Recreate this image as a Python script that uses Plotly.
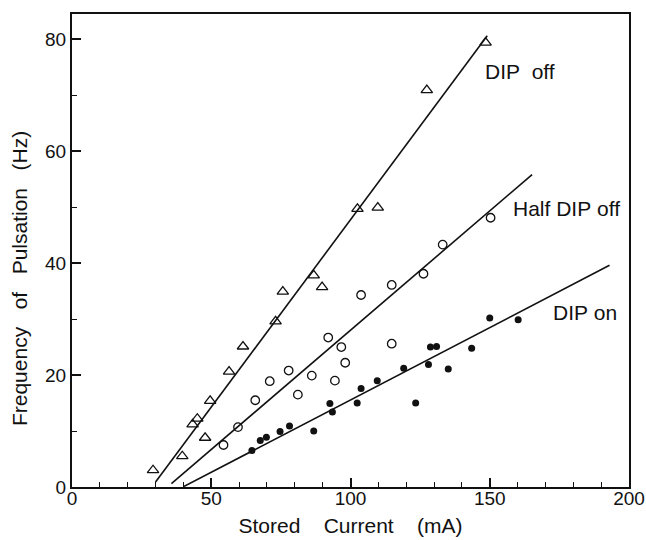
import plotly.graph_objects as go

# DIP off (open triangles)
off_x = [29.1, 39.6, 43.3, 45.0, 47.8, 49.6, 56.4, 61.4, 73.1, 75.7, 86.8, 89.8, 102.5, 109.8, 127.4, 148.5]
off_y = [3.0, 5.5, 11.2, 12.2, 8.8, 15.4, 20.6, 25.1, 29.6, 34.9, 37.8, 35.7, 49.7, 49.9, 70.9, 79.4]

# Half DIP off (open circles)
half_x = [54.4, 59.6, 65.8, 71.0, 77.8, 81.1, 86.1, 92.0, 94.4, 96.7, 98.1, 103.8, 114.8, 114.8, 126.2, 133.1, 150.3]
half_y = [7.5, 10.7, 15.5, 18.9, 20.8, 16.5, 19.9, 26.7, 19.0, 25.0, 22.2, 34.3, 36.1, 25.6, 38.1, 43.3, 48.1]

# DIP on (filled circles)
on_x = [64.6, 67.6, 69.8, 74.7, 78.1, 86.8, 92.6, 93.5, 102.4, 103.8, 109.6, 119.1, 123.4, 128.0, 128.7, 130.9, 135.1, 143.5, 150.0, 160.2]
on_y = [6.5, 8.3, 8.9, 9.9, 10.9, 10.0, 14.9, 13.4, 15.0, 17.6, 19.0, 21.2, 15.0, 21.9, 25.0, 25.1, 21.1, 24.8, 30.2, 29.9]

# Fitted lines (endpoints)
off_fit_x = [30.0, 149.1]
off_fit_y = [0.9, 80.6]
half_fit_x = [35.7, 165.2]
half_fit_y = [0.6, 55.8]
on_fit_x = [40.2, 193.0]
on_fit_y = [0.1, 39.6]

# Labels
label_text = ["DIP\u00a0\u00a0off", "Half\u00a0DIP\u00a0off", "DIP\u00a0on"]
label_x = [161.0, 177.7, 184.2]
label_y = [74.3, 49.7, 31.2]

X_TITLE = "Stored\u00a0\u00a0\u00a0\u00a0Current\u00a0\u00a0\u00a0\u00a0(mA)"
Y_TITLE = "Frequency\u00a0\u00a0\u00a0of\u00a0\u00a0\u00a0Pulsation\u00a0\u00a0\u00a0(Hz)"

FONT = "Liberation Sans, Arial, sans-serif"
INK = "#111111"

fig = go.Figure()
for fx, fy in [(off_fit_x, off_fit_y), (half_fit_x, half_fit_y), (on_fit_x, on_fit_y)]:
    fig.add_trace(go.Scatter(x=fx, y=fy, mode="lines", line=dict(color=INK, width=1.6),
                             showlegend=False, hoverinfo="skip"))

fig.add_trace(go.Scatter(x=off_x, y=off_y, mode="markers", name="DIP off",
                         marker=dict(symbol="triangle-up-open", size=10, color=INK, line=dict(width=1.3))))
fig.add_trace(go.Scatter(x=half_x, y=half_y, mode="markers", name="Half DIP off",
                         marker=dict(symbol="circle-open", size=8.5, color=INK, line=dict(width=1.3))))
fig.add_trace(go.Scatter(x=on_x, y=on_y, mode="markers", name="DIP on",
                         marker=dict(symbol="circle", size=7, color=INK)))

for t, x, y in zip(label_text, label_x, label_y):
    fig.add_annotation(x=x, y=y, text=t, showarrow=False,
                       font=dict(family=FONT, size=21, color=INK))

# y-axis title placed as rotated text left of the axis
fig.add_annotation(xref="paper", yref="paper", x=-0.093, y=0.44, text=Y_TITLE,
                   textangle=-90, showarrow=False, xanchor="center", yanchor="middle",
                   font=dict(family=FONT, size=21, color=INK))

fig.update_layout(
    width=646, height=540,
    margin=dict(l=72, r=17, t=14, b=53),
    paper_bgcolor="white", plot_bgcolor="white",
    showlegend=False,
    font=dict(family=FONT, color=INK, size=19),
)
fig.update_xaxes(
    range=[0, 200], tickvals=[0, 50, 100, 150, 200],
    ticks="inside", ticklen=9, tickwidth=1.5, tickcolor=INK,
    minor=dict(dtick=10, tick0=0, ticks="inside", ticklen=5, tickwidth=1.3, tickcolor=INK, showgrid=False),
    showline=True, linewidth=2, linecolor=INK, mirror=True,
    showgrid=False, zeroline=False, automargin=False,
    tickfont=dict(size=19), ticklabelstandoff=-7,
    title=dict(text=X_TITLE, font=dict(size=21), standoff=11),
)
fig.update_yaxes(
    range=[0, 84.5], tickvals=[0, 20, 40, 60, 80],
    ticks="inside", ticklen=9, tickwidth=1.5, tickcolor=INK,
    minor=dict(dtick=10, tick0=0, ticks="inside", ticklen=5, tickwidth=1.3, tickcolor=INK, showgrid=False),
    showline=True, linewidth=2, linecolor=INK, mirror=True,
    showgrid=False, zeroline=False, automargin=False,
    tickfont=dict(size=19),
)

fig.write_html("out.html")
